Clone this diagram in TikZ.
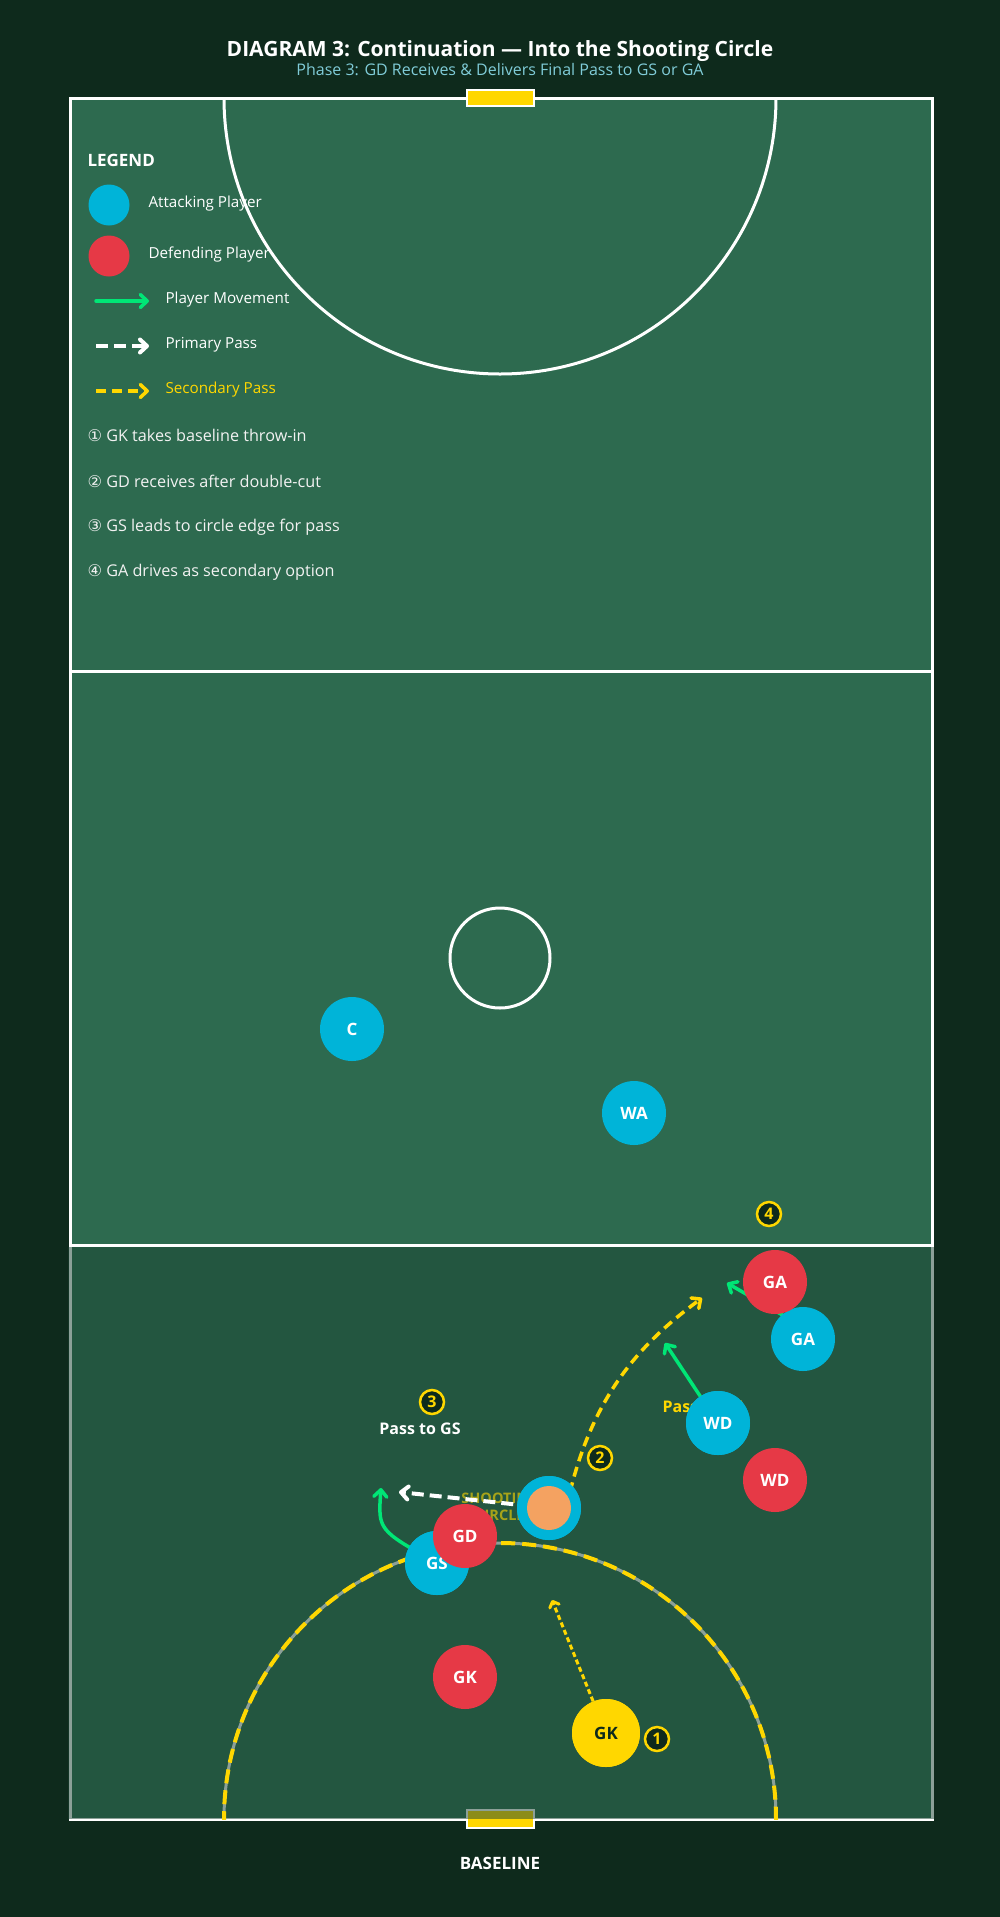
\documentclass[tikz,border=0pt]{standalone}
\usepackage{fontspec}
\setmainfont{Open Sans}
\newfontfamily\symfont{DejaVu Sans}
\usetikzlibrary{arrows.meta}
\definecolor{bg}{HTML}{0E2A1C}
\definecolor{court}{HTML}{2D6A4F}
\definecolor{zone}{HTML}{1B4332}
\definecolor{attk}{HTML}{00B4D8}
\definecolor{defn}{HTML}{E63946}
\definecolor{gold}{HTML}{FFD700}
\definecolor{ballc}{HTML}{F4A261}
\definecolor{move}{HTML}{00E676}
\definecolor{subt}{HTML}{80CCD8}
\definecolor{offw}{HTML}{F2F2F2}
\begin{document}
\begin{tikzpicture}[x=1pt,y=-1pt,
  player/.style={circle, minimum size=64pt, inner sep=0pt, font=\fontsize{17}{17}\selectfont\bfseries, text=white},
  att/.style={player, fill=attk},
  dfd/.style={player, fill=defn},
  badge/.style={circle, draw=gold, line width=2.5pt, fill=bg, minimum size=24pt, inner sep=0pt, text=gold, font=\fontsize{16}{16}\selectfont\bfseries},
  courtline/.style={draw=white, line width=3pt},
  tipb/.style={-{Straight Barb[length=7pt,width=13pt,round]}},
  movearrow/.style={draw=move, line width=3.5pt, line cap=round, tipb},
  primpass/.style={draw=white, line width=4pt, dash pattern=on 12pt off 6pt, tipb},
  secpass/.style={draw=gold, line width=3.5pt, dash pattern=on 10pt off 6pt, tipb},
  dotpass/.style={draw=gold, line width=3pt, dash pattern=on 5pt off 3pt, -{Straight Barb[length=5pt,width=10pt,round]}},
  legtext/.style={anchor=west, text=white, font=\fontsize{15.2}{15.2}\selectfont},
  steptext/.style={anchor=west, text=offw, font=\fontsize{16.2}{16.2}\selectfont},
  lbl/.style={font=\fontsize{16}{16}\selectfont\bfseries}
]
% background
\fill[bg] (0,0) rectangle (1000,1917);
\path[use as bounding box] (0,0) rectangle (1000,1917);

% title
\node[font=\fontsize{21}{21}\selectfont\bfseries, text=white] (title) at (500,51) {DIAGRAM 3: Continuation — Into the Shooting Circle};
\node[font=\fontsize{16}{16}\selectfont, text=subt] (subtitle) at (500,70) {Phase 3: GD Receives \& Delivers Final Pass to GS or GA};

% court
\fill[court] (70,98) rectangle (932,1819);

% legend
\node[anchor=west, text=white, font=\fontsize{17}{17}\selectfont\bfseries] (legend) at (84,160) {LEGEND};
\node[circle, fill=attk, minimum size=41pt, inner sep=0pt] (lga) at (109,205) {};
\node[legtext] (lgat) at (145,204) {Attacking Player};
\node[circle, fill=defn, minimum size=41pt, inner sep=0pt] (lgd) at (109,256) {};
\node[legtext] (lgdt) at (145,255) {Defending Player};
\coordinate (lm1) at (96,301); \coordinate (lm2) at (149,301);
\draw[movearrow] (lm1) -- (lm2);
\node[legtext] (lmt) at (162,300) {Player Movement};
\coordinate (lp1) at (96,346); \coordinate (lp2) at (149,346);
\draw[primpass] (lp1) -- (lp2);
\node[legtext] (lpt) at (162,345) {Primary Pass};
\coordinate (ls1) at (96,391); \coordinate (ls2) at (149,391);
\draw[secpass] (ls1) -- (ls2);
\node[legtext, text=gold] (lst) at (162,390) {Secondary Pass};
\node[steptext] (s1) at (84,435) {{\symfont ①} GK takes baseline throw-in};
\node[steptext] (s2) at (84,481) {{\symfont ②} GD receives after double-cut};
\node[steptext] (s3) at (84,527) {{\symfont ③} GS leads to circle edge for pass};
\node[steptext] (s4) at (84,572) {{\symfont ④} GA drives as secondary option};

% court lines
\begin{scope}
\clip (70,98) rectangle (932,1819);
\draw[courtline] (500,98) circle[radius=276];
\draw[courtline] (500,1819) circle[radius=276];
\end{scope}
\draw[courtline] (500,958) circle[radius=50];
\draw[courtline] (70,671) -- (932,671);
\draw[courtline] (70,1245) -- (932,1245);
\draw[courtline] (70,98) rectangle (932,1819);

% goals
\draw[draw=white, line width=2pt, fill=gold] (467,90) rectangle (534,106);
\draw[draw=white, line width=2pt, fill=gold] (467,1810) rectangle (534,1828);

% shooting zone overlay
\fill[zone, opacity=0.5] (68,1246.6) rectangle (933.6,1819);
\begin{scope}
\clip (60,1200) rectangle (940,1819);
\draw[gold, line width=4pt, dash pattern=on 14pt off 7pt] (500,1819) circle[radius=276];
\end{scope}
\node[align=center, text=gold, text opacity=0.6, font=\fontsize{14.5}{17}\selectfont\bfseries] (sczone) at (500,1507) {SHOOTING\\CIRCLE};

\node[lbl, text=white] (p3) at (420,1429) {Pass to GS};
\node[lbl, text=gold, anchor=west] (p4) at (659,1407) {Pass to GA};

% arrow end coordinates
\coordinate (gaS) at (798,1324);
\coordinate (gaT) at (727,1283);
\coordinate (wdT) at (665,1343);
\coordinate (gsT) at (381,1488);
\coordinate (gdP) at (399,1492);
\coordinate (gdS) at (570,1492);
\coordinate (gdT) at (702,1298);
\coordinate (gkT) at (552,1600);

% players (positions)
\node[att] (GS) at (437,1563) {GS};
\node[circle, fill=attk, minimum size=64pt, inner sep=0pt] (GDa) at (549,1508) {};
\node[player, fill=gold, minimum size=68pt, text=bg] (GKa) at (606,1733) {GK};
\node[att] (WDa) at (718,1423) {WD};

% arrows
\draw[movearrow] (gaS) -- (gaT);
\draw[movearrow] (WDa) -- (wdT);
\draw[movearrow] (GS.center) .. controls (378,1530) .. (gsT);
\draw[primpass] (GDa.center) -- (gdP);
\draw[secpass] (gdS) .. controls (595,1390) and (645,1340) .. (gdT);
\draw[dotpass] (GKa) -- (gkT);

% players
\node[att] (C) at (352,1029) {C};
\node[att] (WA) at (634,1113) {WA};
\node[att] (GAa) at (803,1339) {GA};
\node[dfd] (GAd) at (775,1282) {GA};
\node[att] (WD2) at (718,1423) {WD};
\node[dfd] (WDd) at (775,1480) {WD};
\node[att] (GS2) at (437,1563) {GS};
\node[dfd] (GDd) at (465,1536) {GD};
\node[dfd] (GKd) at (465,1677) {GK};
\node[circle, fill=attk, minimum size=64pt, inner sep=0pt] (GD2) at (549,1508) {};
\node[circle, fill=ballc, minimum size=44pt, inner sep=0pt] (ball) at (549,1508) {};
\node[player, fill=gold, minimum size=68pt, text=bg] (GK2) at (606,1733) {GK};

% step badges
\node[badge] (n1) at (657,1739) {1};
\node[badge] (n2) at (600,1458) {2};
\node[badge] (n3) at (432,1402) {3};
\node[badge] (n4) at (769,1214) {4};

\node[text=white, font=\fontsize{17}{17}\selectfont\bfseries] (baseline) at (500,1863) {BASELINE};
\end{tikzpicture}
\end{document}
